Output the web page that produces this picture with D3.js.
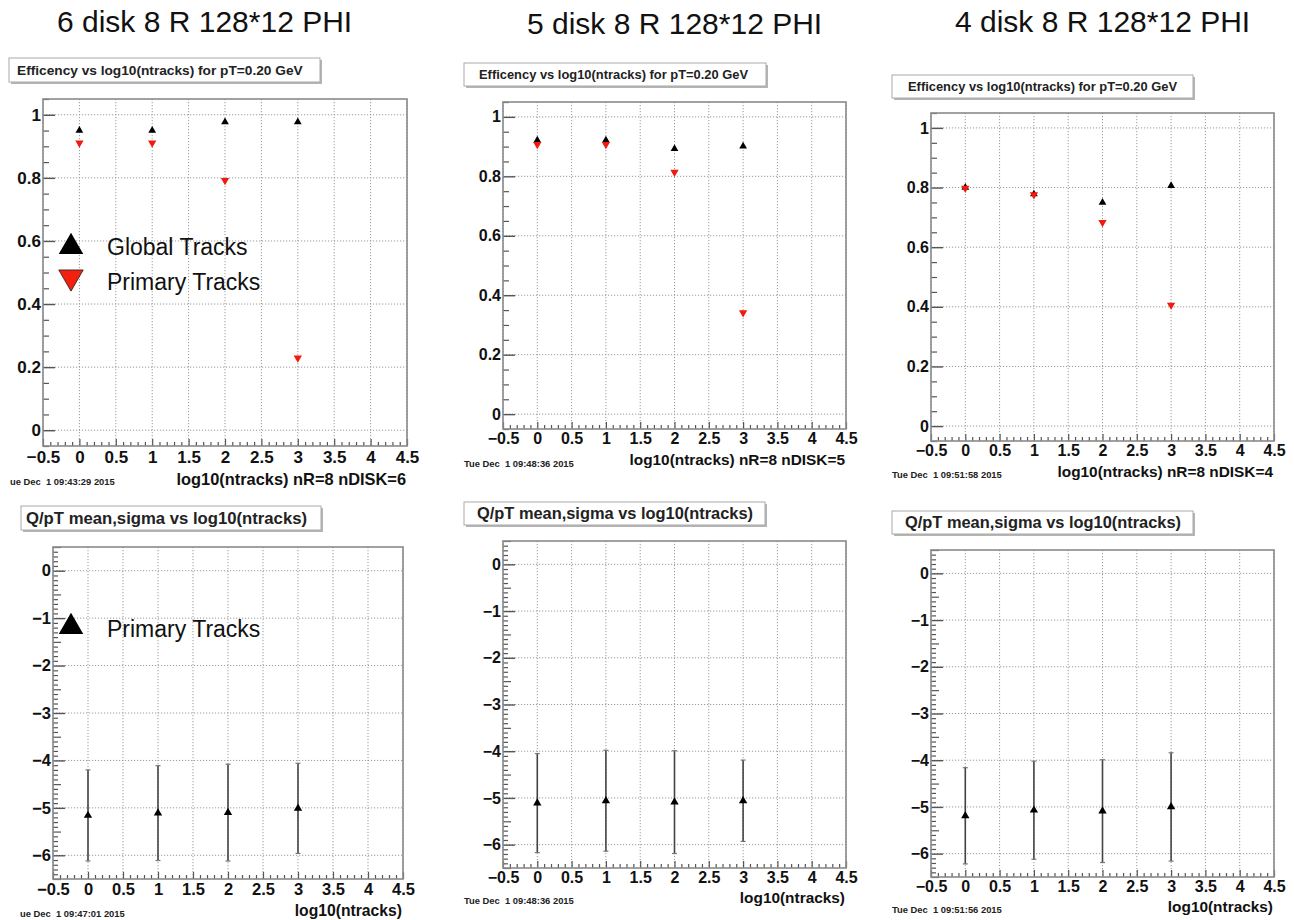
<!DOCTYPE html>
<html><head><meta charset="utf-8">
<script src="https://cdn.jsdelivr.net/npm/d3@7"></script>
<style>
body{margin:0;background:#fff}
svg{display:block}
text{font-family:"Liberation Sans",Arial,Helvetica,sans-serif;white-space:pre}
</style>
</head><body>
<svg id="c" width="1294" height="920"></svg>
<script>
// ---------------- data ----------------
const xVals = [0, 1, 2, 3];
const xTickVals = [-0.5, 0, 0.5, 1, 1.5, 2, 2.5, 3, 3.5, 4, 4.5];
const effTickVals = [0, 0.2, 0.4, 0.6, 0.8, 1];
const qptTickVals = [-6, -5, -4, -3, -2, -1, 0];
const headers = ["6 disk 8 R 128*12 PHI", "5 disk 8 R 128*12 PHI", "4 disk 8 R 128*12 PHI"];
const effTitle = "Efficency vs log10(ntracks) for pT=0.20 GeV";
const qptTitle = "Q/pT mean,sigma vs log10(ntracks)";
const effXTitles = ["log10(ntracks) nR=8 nDISK=6", "log10(ntracks) nR=8 nDISK=5", "log10(ntracks) nR=8 nDISK=4"];
const qptXTitle = "log10(ntracks)";
const effStamps = ["ue Dec  1 09:43:29 2015", "Tue Dec  1 09:48:36 2015", "Tue Dec  1 09:51:58 2015"];
const qptStamps = ["ue Dec  1 09:47:01 2015", "Tue Dec  1 09:48:36 2015", "Tue Dec  1 09:51:56 2015"];
const effLegend = ["Global Tracks", "Primary Tracks"];
const qptLegend = ["Primary Tracks"];

const eff6Global  = [0.950, 0.950, 0.977, 0.977];
const eff6Primary = [0.911, 0.911, 0.792, 0.229];
const eff5Global  = [0.921, 0.921, 0.893, 0.901];
const eff5Primary = [0.907, 0.907, 0.814, 0.341];
const eff4Global  = [0.800, 0.778, 0.750, 0.806];
const eff4Primary = [0.798, 0.776, 0.683, 0.406];

const qpt6Mean  = [-5.16, -5.11, -5.10, -5.01];
const qpt6Sigma = [0.96, 1.00, 1.02, 0.95];
const qpt5Mean  = [-5.11, -5.06, -5.09, -5.06];
const qpt5Sigma = [1.06, 1.08, 1.10, 0.87];
const qpt4Mean  = [-5.19, -5.07, -5.09, -5.00];
const qpt4Sigma = [1.03, 1.05, 1.10, 1.16];

// ---------------- layout ----------------
const svg = d3.select("#c");
const FONT = '"Liberation Sans",Arial,Helvetica,sans-serif';

const headerPos = [{x:57, y:32}, {x:527, y:34}, {x:955, y:32}];
headers.forEach((h, i) => {
  svg.append("text").attr("x", headerPos[i].x).attr("y", headerPos[i].y)
    .attr("font-size", 30).attr("fill", "#111").text(h);
});

const effPanels = [
  {L:43, R:407, T:99, B:446, box:[9,58,311,24], tx:17, tfs:13.7, fs:17, lblOff:17, afs:16.4, ax:406, ay:485, sx:10, sy:485, sfs:9.4,
   g:eff6Global, p:eff6Primary, xt:effXTitles[0], st:effStamps[0], legend:true},
  {L:503, R:846, T:102, B:429, box:[464,63,302,23], tx:479, tfs:12.9, fs:16, lblOff:15, afs:15.4, ax:845, ay:465, sx:464, sy:467, sfs:9.4,
   g:eff5Global, p:eff5Primary, xt:effXTitles[1], st:effStamps[1], legend:false},
  {L:931, R:1274, T:113, B:441, box:[892,75,301,23], tx:908, tfs:12.9, fs:16, lblOff:15, afs:15.4, ax:1273, ay:477, sx:892, sy:478, sfs:9.4,
   g:eff4Global, p:eff4Primary, xt:effXTitles[2], st:effStamps[2], legend:false}
];
const qptPanels = [
  {L:53, R:403, T:547, B:879, box:[21,506,300,24], tx:26, tfs:16.7, fs:16.5, lblOff:16, afs:15.7, ax:402, ay:916, sx:20, sy:917, sfs:9.4,
   m:qpt6Mean, s:qpt6Sigma, xt:qptXTitle, st:qptStamps[0], legend:true},
  {L:503, R:846, T:541, B:868, box:[464,502,301,23], tx:477, tfs:16.4, fs:16, lblOff:15, afs:15.4, ax:845, ay:903, sx:464, sy:904, sfs:9.4,
   m:qpt5Mean, s:qpt5Sigma, xt:qptXTitle, st:qptStamps[1], legend:false},
  {L:931, R:1274, T:550, B:877, box:[892,511,301,23], tx:905, tfs:16.4, fs:16, lblOff:15, afs:15.4, ax:1273, ay:912, sx:892, sy:913, sfs:9.4,
   m:qpt4Mean, s:qpt4Sigma, xt:qptXTitle, st:qptStamps[2], legend:false}
];

const fmt = d3.format("~g");

function frame(cfg, yDomain, yMajor, yMinor, yMid, yMajLen, yMinLen, title) {
  const g = svg.append("g");
  const x = d3.scaleLinear().domain([-0.5, 4.5]).range([cfg.L, cfg.R]);
  const y = d3.scaleLinear().domain(yDomain).range([cfg.B, cfg.T]);

  // title box with shadow
  const [bx, by, bw, bh] = cfg.box;
  g.append("rect").attr("x", bx + 2).attr("y", by + 2).attr("width", bw).attr("height", bh)
    .attr("fill", "#b5b5b5");
  g.append("rect").attr("x", bx).attr("y", by).attr("width", bw).attr("height", bh)
    .attr("fill", "#fff").attr("stroke", "#aaa").attr("stroke-width", 1);
  g.append("text").attr("x", cfg.tx).attr("y", by + bh / 2 + cfg.tfs * 0.36)
    .attr("font-size", cfg.tfs).attr("font-weight", "bold").attr("fill", "#222").text(title);

  // grid
  const grid = g.append("g").attr("stroke", "#9a9a9a").attr("stroke-width", 1).attr("stroke-dasharray", "1.2,1.8");
  xTickVals.forEach(v => grid.append("line").attr("x1", x(v)).attr("x2", x(v)).attr("y1", cfg.T).attr("y2", cfg.B));
  yMajor.forEach(v => grid.append("line").attr("x1", cfg.L).attr("x2", cfg.R).attr("y1", y(v)).attr("y2", y(v)));

  // x axis (ticks inside, pointing up)
  const xMinor = d3.range(-5, 46).map(k => k / 10).filter(v => Math.abs(v * 2 - Math.round(v * 2)) > 1e-6);
  g.append("g").attr("transform", `translate(0,${cfg.B})`)
    .call(d3.axisBottom(x).tickValues(xMinor).tickSize(-4).tickFormat(""))
    .call(a => a.select(".domain").remove())
    .call(a => a.selectAll("line").attr("stroke", "#555").attr("stroke-width", 1.2));
  const xa = g.append("g").attr("transform", `translate(0,${cfg.B})`)
    .call(d3.axisBottom(x).tickValues(xTickVals).tickSizeInner(-7).tickSizeOuter(0).tickPadding(cfg.lblOff - 7 - cfg.fs * 0.71 + cfg.fs * 0.72).tickFormat(fmt));
  xa.select(".domain").remove();
  xa.selectAll("line").attr("stroke", "#555").attr("stroke-width", 1.2);
  xa.selectAll("text").attr("font-size", cfg.fs).attr("font-weight", "bold").attr("fill", "#111")
    .attr("font-family", FONT).attr("dy", null).attr("y", cfg.lblOff);

  // y axis (ticks inside, pointing right)
  g.append("g").attr("transform", `translate(${cfg.L},0)`)
    .call(d3.axisLeft(y).tickValues(yMinor).tickSize(-yMinLen).tickFormat(""))
    .call(a => a.select(".domain").remove())
    .call(a => a.selectAll("line").attr("stroke", "#555").attr("stroke-width", 1.2));
  if (yMid.length) {
    g.append("g").attr("transform", `translate(${cfg.L},0)`)
      .call(d3.axisLeft(y).tickValues(yMid).tickSize(-(yMinLen + 3)).tickFormat(""))
      .call(a => a.select(".domain").remove())
      .call(a => a.selectAll("line").attr("stroke", "#555").attr("stroke-width", 1.2));
  }
  const ya = g.append("g").attr("transform", `translate(${cfg.L},0)`)
    .call(d3.axisLeft(y).tickValues(yMajor).tickSizeInner(-yMajLen).tickSizeOuter(0).tickPadding(2).tickFormat(fmt));
  ya.select(".domain").remove();
  ya.selectAll("line").attr("stroke", "#555").attr("stroke-width", 1.4);
  ya.selectAll("text").attr("font-size", cfg.fs).attr("font-weight", "bold").attr("fill", "#111")
    .attr("font-family", FONT).attr("x", -2);

  // frame
  g.append("rect").attr("x", cfg.L).attr("y", cfg.T).attr("width", cfg.R - cfg.L).attr("height", cfg.B - cfg.T)
    .attr("fill", "none").attr("stroke", "#8a8a8a").attr("stroke-width", 1.6);

  // axis title + timestamp
  g.append("text").attr("x", cfg.ax).attr("y", cfg.ay).attr("text-anchor", "end")
    .attr("font-size", cfg.afs).attr("font-weight", "bold").attr("fill", "#111").text(cfg.xt);
  g.append("text").attr("x", cfg.sx).attr("y", cfg.sy)
    .attr("font-size", cfg.sfs).attr("font-weight", "bold").attr("fill", "#222").text(cfg.st);

  return {g, x, y};
}

const triUp = d3.symbol().type(d3.symbolTriangle);

// efficiency panels
effPanels.forEach(cfg => {
  const yMinor = d3.range(-1, 22).map(k => k * 0.05).filter(v => Math.abs(v * 5 - Math.round(v * 5)) > 1e-6);
  const {g, x, y} = frame(cfg, [-0.05, 1.05], effTickVals, yMinor, [], 12, 6, effTitle);
  const gl = xVals.map((v, i) => ({x: v, y: cfg.g[i]}));
  const pr = xVals.map((v, i) => ({x: v, y: cfg.p[i]}));
  g.selectAll(".glob").data(gl).join("path").attr("class", "glob")
    .attr("d", triUp.size(26)).attr("fill", "#000")
    .attr("transform", d => `translate(${x(d.x)},${y(d.y)})`);
  g.selectAll(".prim").data(pr).join("path").attr("class", "prim")
    .attr("d", triUp.size(30)).attr("fill", "#f21a0e")
    .attr("transform", d => `translate(${x(d.x)},${y(d.y)}) rotate(180)`);
  if (cfg.legend) {
    g.append("path").attr("d", triUp.size(260)).attr("fill", "#000").attr("transform", "translate(71,247)");
    g.append("path").attr("d", triUp.size(260)).attr("fill", "#f2200e").attr("stroke", "#222").attr("stroke-width", 0.8)
      .attr("transform", "translate(71,277) rotate(180)");
    g.append("text").attr("x", 107).attr("y", 255).attr("font-size", 23).attr("fill", "#111").text(effLegend[0]);
    g.append("text").attr("x", 107).attr("y", 289.5).attr("font-size", 23).attr("fill", "#111").text(effLegend[1]);
  }
});

// Q/pT panels
qptPanels.forEach(cfg => {
  const yMinor = d3.range(-65, 6).map(k => k / 10).filter(v => Math.abs(v * 2 - Math.round(v * 2)) > 1e-6);
  const yMid = d3.range(-6.5, 0.6, 1);
  const {g, x, y} = frame(cfg, [-6.5, 0.5], qptTickVals, yMinor, yMid, 12, 5, qptTitle);
  const pts = xVals.map((v, i) => ({x: v, m: cfg.m[i], s: cfg.s[i]}));
  const eb = g.append("g");
  eb.selectAll(".bar").data(pts).join("line").attr("class", "bar")
    .attr("x1", d => x(d.x)).attr("x2", d => x(d.x))
    .attr("y1", d => y(d.m + d.s)).attr("y2", d => y(d.m - d.s))
    .attr("stroke", "#444").attr("stroke-width", 1.6);
  eb.selectAll(".capT").data(pts).join("line").attr("class", "capT")
    .attr("x1", d => x(d.x) - 2.5).attr("x2", d => x(d.x) + 2.5)
    .attr("y1", d => y(d.m + d.s)).attr("y2", d => y(d.m + d.s))
    .attr("stroke", "#777").attr("stroke-width", 1.2);
  eb.selectAll(".capB").data(pts).join("line").attr("class", "capB")
    .attr("x1", d => x(d.x) - 2.5).attr("x2", d => x(d.x) + 2.5)
    .attr("y1", d => y(d.m - d.s)).attr("y2", d => y(d.m - d.s))
    .attr("stroke", "#777").attr("stroke-width", 1.2);
  g.selectAll(".mk").data(pts).join("path").attr("class", "mk")
    .attr("d", triUp.size(30)).attr("fill", "#000")
    .attr("transform", d => `translate(${x(d.x)},${y(d.m)})`);
  if (cfg.legend) {
    g.append("path").attr("d", triUp.size(260)).attr("fill", "#000").attr("transform", "translate(71,627)");
    g.append("text").attr("x", 107).attr("y", 637).attr("font-size", 23).attr("fill", "#111").text(qptLegend[0]);
  }
});
</script>
</body></html>
